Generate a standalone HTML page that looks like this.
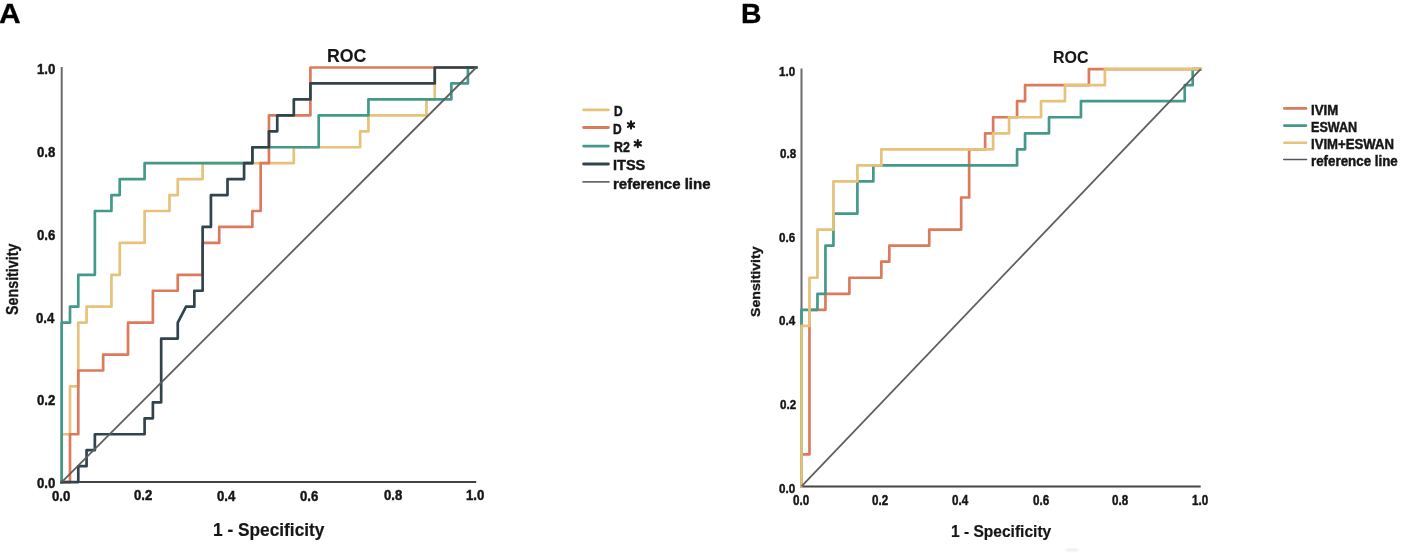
<!DOCTYPE html>
<html><head><meta charset="utf-8">
<style>
html,body{margin:0;padding:0;background:#fff;}
body{width:1402px;height:553px;position:relative;overflow:hidden;font-family:"Liberation Sans",sans-serif;color:#111;}
svg{position:absolute;left:0;top:0;}
#plot{filter:blur(0.3px);}
.tx{filter:grayscale(1) blur(0.25px);position:absolute;font-weight:bold;line-height:1;white-space:nowrap;transform-origin:0 0;}
.t{position:absolute;white-space:nowrap;font-weight:bold;line-height:1;}
.big{font-size:28px;color:#0a0a0a;}
.roc{font-size:17px;color:#1a1a1a;}
.ta{position:absolute;font-weight:bold;line-height:1;white-space:nowrap;font-size:13.5px;color:#222;}
.tb{position:absolute;font-weight:bold;line-height:1;white-space:nowrap;font-size:11px;color:#222;}
.yt{transform:translateY(-50%);}
.xt{transform:translateX(-50%);}
.axt{font-size:17px;color:#1a1a1a;}
.leg{position:absolute;font-weight:bold;line-height:1;white-space:nowrap;font-size:14.5px;color:#1a1a1a;}
.lg{position:absolute;height:3px;filter:blur(0.3px);}
</style></head><body>
<svg id="plot" width="1402" height="553" viewBox="0 0 1402 553">
<line x1="61.7" y1="67.0" x2="61.7" y2="482.1" stroke="#6b6b6b" stroke-width="2"/>
<line x1="61.7" y1="482.1" x2="476.2" y2="482.1" stroke="#444" stroke-width="2"/>
<path d="M61.70 482.10 L61.70 434.26 L69.99 434.26 L69.99 386.42 L78.28 386.42 L78.28 322.64 L86.57 322.64 L86.57 306.69 L111.44 306.69 L111.44 274.80 L119.73 274.80 L119.73 242.91 L144.60 242.91 L144.60 211.02 L169.47 211.02 L169.47 195.07 L177.76 195.07 L177.76 179.12 L202.63 179.12 L202.63 163.18 L293.82 163.18 L293.82 147.23 L360.14 147.23 L360.14 131.28 L368.43 131.28 L368.43 115.34 L426.46 115.34 L426.46 99.39 L434.75 99.39 L434.75 67.50 L476.20 67.50" fill="none" stroke="#e6c27a" stroke-width="2.7" stroke-linejoin="round" stroke-linecap="square"/>
<path d="M61.70 482.10 L69.99 482.10 L69.99 434.26 L78.28 434.26 L78.28 370.48 L103.15 370.48 L103.15 354.53 L128.02 354.53 L128.02 322.64 L152.89 322.64 L152.89 290.75 L177.76 290.75 L177.76 274.80 L202.63 274.80 L202.63 242.91 L219.21 242.91 L219.21 226.96 L252.37 226.96 L252.37 211.02 L260.66 211.02 L260.66 163.18 L268.95 163.18 L268.95 115.34 L310.40 115.34 L310.40 67.50 L476.20 67.50" fill="none" stroke="#dd7a5c" stroke-width="2.7" stroke-linejoin="round" stroke-linecap="square"/>
<path d="M61.70 482.10 L61.70 322.64 L69.99 322.64 L69.99 306.69 L78.28 306.69 L78.28 274.80 L94.86 274.80 L94.86 211.02 L111.44 211.02 L111.44 195.07 L119.73 195.07 L119.73 179.12 L144.60 179.12 L144.60 163.18 L252.37 163.18 L252.37 147.23 L318.69 147.23 L318.69 115.34 L368.43 115.34 L368.43 99.39 L451.33 99.39 L451.33 83.45 L467.91 83.45 L467.91 67.50 L476.20 67.50" fill="none" stroke="#43998a" stroke-width="2.7" stroke-linejoin="round" stroke-linecap="square"/>
<path d="M61.70 482.10 L78.28 482.10 L78.28 466.15 L86.57 466.15 L86.57 450.21 L94.86 450.21 L94.86 434.26 L144.60 434.26 L144.60 418.32 L152.89 418.32 L152.89 402.37 L161.18 402.37 L161.18 338.58 L177.76 338.58 L177.76 322.64 L186.05 306.69 L194.34 306.69 L194.34 290.75 L202.63 290.75 L202.63 226.96 L210.92 226.96 L210.92 195.07 L227.50 195.07 L227.50 179.12 L244.08 179.12 L244.08 163.18 L252.37 163.18 L252.37 147.23 L268.95 147.23 L268.95 131.28 L277.24 131.28 L277.24 115.34 L293.82 115.34 L293.82 99.39 L310.40 99.39 L310.40 83.45 L434.75 83.45 L434.75 67.50 L476.20 67.50" fill="none" stroke="#31444e" stroke-width="2.7" stroke-linejoin="round" stroke-linecap="square"/>
<line x1="61.7" y1="482.1" x2="476.2" y2="67.5" stroke="#5e5e5e" stroke-width="1.8"/>
<line x1="801.5" y1="68.6" x2="801.5" y2="486.4" stroke="#6b6b6b" stroke-width="2"/>
<line x1="801.5" y1="486.4" x2="1200.7" y2="486.4" stroke="#444" stroke-width="2"/>
<path d="M801.50 486.40 L801.50 454.30 L809.48 454.30 L809.48 309.85 L825.45 309.85 L825.45 293.80 L849.40 293.80 L849.40 277.75 L881.34 277.75 L881.34 261.70 L889.32 261.70 L889.32 245.65 L929.24 245.65 L929.24 229.60 L961.18 229.60 L961.18 197.50 L969.16 197.50 L969.16 149.35 L985.13 149.35 L985.13 133.30 L993.12 133.30 L993.12 117.25 L1017.07 117.25 L1017.07 101.20 L1025.05 101.20 L1025.05 85.15 L1088.92 85.15 L1088.92 69.10 L1200.70 69.10" fill="none" stroke="#dd7a5c" stroke-width="2.7" stroke-linejoin="round" stroke-linecap="square"/>
<path d="M801.50 486.40 L801.50 309.85 L817.47 309.85 L817.47 293.80 L825.45 293.80 L825.45 245.65 L833.44 245.65 L833.44 213.55 L857.39 213.55 L857.39 181.45 L873.36 181.45 L873.36 165.40 L1017.07 165.40 L1017.07 149.35 L1025.05 149.35 L1025.05 133.30 L1049.00 133.30 L1049.00 117.25 L1080.94 117.25 L1080.94 101.20 L1184.73 101.20 L1184.73 85.15 L1192.72 85.15 L1192.72 69.10 L1200.70 69.10" fill="none" stroke="#43998a" stroke-width="2.7" stroke-linejoin="round" stroke-linecap="square"/>
<path d="M801.50 486.40 L801.50 325.90 L809.48 325.90 L809.48 277.75 L817.47 277.75 L817.47 229.60 L833.44 229.60 L833.44 181.45 L857.39 181.45 L857.39 165.40 L881.34 165.40 L881.34 149.35 L993.12 149.35 L993.12 133.30 L1009.08 133.30 L1009.08 117.25 L1041.02 117.25 L1041.02 101.20 L1064.97 101.20 L1064.97 85.15 L1104.89 85.15 L1104.89 69.10 L1200.70 69.10" fill="none" stroke="#e6c27a" stroke-width="2.7" stroke-linejoin="round" stroke-linecap="square"/>
<line x1="801.5" y1="486.4" x2="1200.7" y2="69.1" stroke="#5e5e5e" stroke-width="1.8"/>
<line x1="583.60" y1="109.90" x2="608.40" y2="109.90" stroke="#e6c27a" stroke-width="2.8" stroke-linecap="round"/>
<line x1="583.60" y1="127.50" x2="608.40" y2="127.50" stroke="#dd7a5c" stroke-width="2.8" stroke-linecap="round"/>
<line x1="583.60" y1="146.10" x2="608.40" y2="146.10" stroke="#43998a" stroke-width="2.8" stroke-linecap="round"/>
<line x1="583.60" y1="164.00" x2="608.40" y2="164.00" stroke="#31444e" stroke-width="2.8" stroke-linecap="round"/>
<line x1="583.10" y1="181.90" x2="608.90" y2="181.90" stroke="#6a6a6a" stroke-width="1.8" stroke-linecap="round"/>
<line x1="1284.30" y1="108.40" x2="1306.00" y2="108.40" stroke="#dd7a5c" stroke-width="2.6" stroke-linecap="round"/>
<line x1="1284.30" y1="125.60" x2="1306.00" y2="125.60" stroke="#43998a" stroke-width="2.6" stroke-linecap="round"/>
<line x1="1284.30" y1="142.70" x2="1306.00" y2="142.70" stroke="#e6c27a" stroke-width="2.6" stroke-linecap="round"/>
<line x1="1283.80" y1="159.50" x2="1306.50" y2="159.50" stroke="#555" stroke-width="1.6" stroke-linecap="round"/>
</svg>
<div class="tx" style="left:-0.83px;top:-0.98px;font-size:28.50px;transform:scaleX(1.0537);color:#000;-webkit-text-stroke:0.3px #000">A</div>
<div class="tx" style="left:740.78px;top:-0.98px;font-size:28.50px;transform:scaleX(0.9954);color:#000;-webkit-text-stroke:0.3px #000">B</div>
<div class="tx" style="left:327.35px;top:46.67px;font-size:18.01px;transform:scaleX(0.9841);color:#161616;-webkit-text-stroke:0.1px #161616">ROC</div>
<div class="tx" style="left:1053.39px;top:49.30px;font-size:17.26px;transform:scaleX(0.9277);color:#161616;-webkit-text-stroke:0.1px #161616">ROC</div>
<div class="tx" style="left:212.82px;top:520.90px;font-size:18.19px;transform:scaleX(0.9505);color:#161616;-webkit-text-stroke:0.2px #161616">1 - Specificity</div>
<div class="tx" style="left:950.51px;top:523.00px;font-size:16.24px;transform:scaleX(0.9576);color:#161616;-webkit-text-stroke:0.2px #161616">1 - Specificity</div>
<div class="tx" style="left:5.41px;top:314.67px;font-size:16.01px;transform:rotate(-90deg) scaleX(0.8928);color:#161616;-webkit-text-stroke:0.3px #161616">Sensitivity</div>
<div class="tx" style="left:749.78px;top:317.48px;font-size:12.53px;transform:rotate(-90deg) scaleX(1.1274);color:#161616;-webkit-text-stroke:0.3px #161616">Sensitivity</div>
<div class="tx" style="left:613.59px;top:102.75px;font-size:15.00px;transform:scaleX(0.8000);color:#161616;-webkit-text-stroke:0.45px #161616">D</div>
<div class="tx" style="left:613.36px;top:121.25px;font-size:15.00px;transform:scaleX(0.8000);color:#161616;-webkit-text-stroke:0.45px #161616">D</div>
<div class="tx" style="left:613.88px;top:138.85px;font-size:15.00px;transform:scaleX(0.8295);color:#161616;-webkit-text-stroke:0.45px #161616">R2</div>
<div class="tx" style="left:612.80px;top:156.65px;font-size:15.00px;transform:scaleX(0.9685);color:#161616;-webkit-text-stroke:0.45px #161616">ITSS</div>
<div class="tx" style="left:612.69px;top:175.75px;font-size:15.00px;transform:scaleX(0.9993);color:#161616;-webkit-text-stroke:0.45px #161616">reference line</div>
<div class="tx" style="left:1310.82px;top:102.90px;font-size:14.00px;transform:scaleX(0.9445);color:#161616;-webkit-text-stroke:0.45px #161616">IVIM</div>
<div class="tx" style="left:1310.93px;top:120.30px;font-size:14.00px;transform:scaleX(0.8999);color:#161616;-webkit-text-stroke:0.45px #161616">ESWAN</div>
<div class="tx" style="left:1311.34px;top:136.60px;font-size:14.00px;transform:scaleX(0.9387);color:#161616;-webkit-text-stroke:0.45px #161616">IVIM+ESWAN</div>
<div class="tx" style="left:1310.71px;top:153.80px;font-size:14.00px;transform:scaleX(0.9533);color:#161616;-webkit-text-stroke:0.45px #161616">reference line</div>
<div class="tx" style="left:37.09px;top:476.31px;font-size:14.50px;transform:scaleX(0.9100);color:#161616;-webkit-text-stroke:0.45px #161616">0.0</div>
<div class="tx" style="left:51.77px;top:489.31px;font-size:14.00px;transform:scaleX(0.9400);color:#161616;-webkit-text-stroke:0.45px #161616">0.0</div>
<div class="tx" style="left:778.69px;top:481.83px;font-size:13.50px;transform:scaleX(0.8600);color:#161616;-webkit-text-stroke:0.45px #161616">0.0</div>
<div class="tx" style="left:793.33px;top:492.84px;font-size:14.00px;transform:scaleX(0.8300);color:#161616;-webkit-text-stroke:0.45px #161616">0.0</div>
<div class="tx" style="left:36.94px;top:393.46px;font-size:14.50px;transform:scaleX(0.9100);color:#161616;-webkit-text-stroke:0.45px #161616">0.2</div>
<div class="tx" style="left:134.20px;top:488.37px;font-size:14.00px;transform:scaleX(0.9400);color:#161616;-webkit-text-stroke:0.45px #161616">0.2</div>
<div class="tx" style="left:779.52px;top:397.91px;font-size:13.50px;transform:scaleX(0.8600);color:#161616;-webkit-text-stroke:0.45px #161616">0.2</div>
<div class="tx" style="left:872.35px;top:492.82px;font-size:14.00px;transform:scaleX(0.8300);color:#161616;-webkit-text-stroke:0.45px #161616">0.2</div>
<div class="tx" style="left:36.08px;top:310.70px;font-size:14.50px;transform:scaleX(0.9100);color:#161616;-webkit-text-stroke:0.45px #161616">0.4</div>
<div class="tx" style="left:216.75px;top:488.50px;font-size:14.00px;transform:scaleX(0.9400);color:#161616;-webkit-text-stroke:0.45px #161616">0.4</div>
<div class="tx" style="left:778.59px;top:314.20px;font-size:13.50px;transform:scaleX(0.8600);color:#161616;-webkit-text-stroke:0.45px #161616">0.4</div>
<div class="tx" style="left:951.91px;top:493.00px;font-size:14.00px;transform:scaleX(0.8300);color:#161616;-webkit-text-stroke:0.45px #161616">0.4</div>
<div class="tx" style="left:37.00px;top:227.62px;font-size:14.50px;transform:scaleX(0.9100);color:#161616;-webkit-text-stroke:0.45px #161616">0.6</div>
<div class="tx" style="left:300.24px;top:489.32px;font-size:14.00px;transform:scaleX(0.9400);color:#161616;-webkit-text-stroke:0.45px #161616">0.6</div>
<div class="tx" style="left:778.64px;top:231.13px;font-size:13.50px;transform:scaleX(0.8600);color:#161616;-webkit-text-stroke:0.45px #161616">0.6</div>
<div class="tx" style="left:1032.58px;top:492.84px;font-size:14.00px;transform:scaleX(0.8300);color:#161616;-webkit-text-stroke:0.45px #161616">0.6</div>
<div class="tx" style="left:36.75px;top:144.78px;font-size:14.50px;transform:scaleX(0.9100);color:#161616;-webkit-text-stroke:0.45px #161616">0.8</div>
<div class="tx" style="left:383.63px;top:488.38px;font-size:14.00px;transform:scaleX(0.9400);color:#161616;-webkit-text-stroke:0.45px #161616">0.8</div>
<div class="tx" style="left:779.53px;top:147.21px;font-size:13.50px;transform:scaleX(0.8600);color:#161616;-webkit-text-stroke:0.45px #161616">0.8</div>
<div class="tx" style="left:1112.17px;top:492.84px;font-size:14.00px;transform:scaleX(0.8300);color:#161616;-webkit-text-stroke:0.45px #161616">0.8</div>
<div class="tx" style="left:37.09px;top:61.99px;font-size:14.50px;transform:scaleX(0.9100);color:#161616;-webkit-text-stroke:0.45px #161616">1.0</div>
<div class="tx" style="left:466.28px;top:488.49px;font-size:14.00px;transform:scaleX(0.9400);color:#161616;-webkit-text-stroke:0.45px #161616">1.0</div>
<div class="tx" style="left:778.69px;top:64.50px;font-size:13.50px;transform:scaleX(0.8600);color:#161616;-webkit-text-stroke:0.45px #161616">1.0</div>
<div class="tx" style="left:1192.02px;top:493.00px;font-size:14.00px;transform:scaleX(0.8300);color:#161616;-webkit-text-stroke:0.45px #161616">1.0</div>
<div style="position:absolute;left:1066px;top:548.5px;width:12px;height:2px;background:#e3e6ea;filter:blur(0.8px)"></div>
<svg width="1402" height="553" style="position:absolute;left:0;top:0">
<line x1="631.00" y1="121.40" x2="631.00" y2="128.60" stroke="#151515" stroke-width="2.1" stroke-linecap="round"/><line x1="627.88" y1="123.20" x2="634.12" y2="126.80" stroke="#151515" stroke-width="2.1" stroke-linecap="round"/><line x1="634.12" y1="123.20" x2="627.88" y2="126.80" stroke="#151515" stroke-width="2.1" stroke-linecap="round"/>
<line x1="637.80" y1="140.10" x2="637.80" y2="147.30" stroke="#151515" stroke-width="2.1" stroke-linecap="round"/><line x1="634.68" y1="141.90" x2="640.92" y2="145.50" stroke="#151515" stroke-width="2.1" stroke-linecap="round"/><line x1="640.92" y1="141.90" x2="634.68" y2="145.50" stroke="#151515" stroke-width="2.1" stroke-linecap="round"/>
</svg>
</body></html>
